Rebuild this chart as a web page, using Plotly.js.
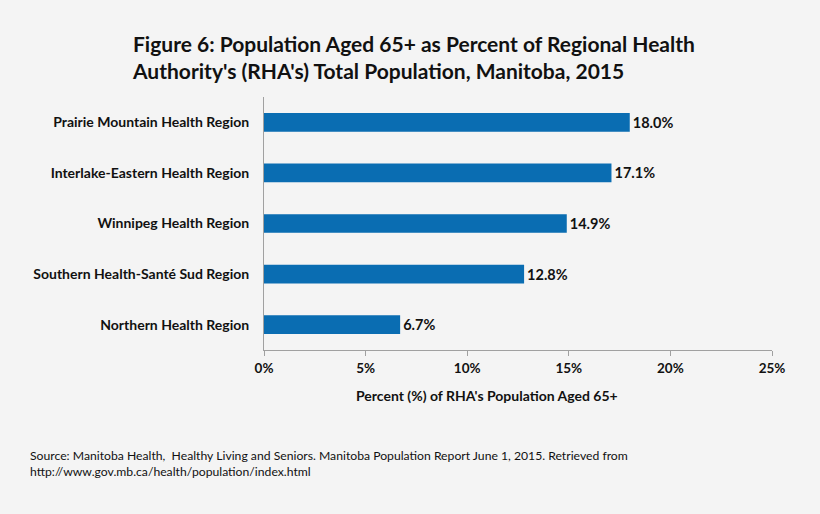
<!DOCTYPE html>
<html>
<head>
<meta charset="utf-8">
<script src="https://cdn.plot.ly/plotly-3.0.1.min.js"></script>
<style>html,body{margin:0;padding:0;background:#f4f4f4;}#chart{width:820px;height:514px;}</style>
</head>
<body>
<div id="chart"></div>
<script>
const regions = [
  "Northern Health Region",
  "Southern Health-Santé Sud Region",
  "Winnipeg Health Region",
  "Interlake-Eastern Health Region",
  "Prairie Mountain Health Region"
];
const percents = [6.7, 12.8, 14.9, 17.1, 18.0];
const tickValues = [0, 5, 10, 15, 20, 25];
const tickLabels = ["0%", "5%", "10%", "15%", "20%", "25%"];
const titleText = "Figure 6: Population Aged 65+ as Percent of Regional Health<br>Authority's (RHA's) Total Population, Manitoba, 2015";
const xTitle = "Percent (%) of RHA's Population Aged 65+";
const sourceText = "Source: Manitoba Health,  Healthy Living and Seniors. Manitoba Population Report June 1, 2015. Retrieved from<br>http://www.gov.mb.ca/health/population/index.html";

const FONT = "Lato, 'Open Sans', sans-serif";

Plotly.newPlot("chart", [{
  type: "bar",
  orientation: "h",
  x: percents,
  y: regions,
  marker: {color: "#0a6db2"},
  text: percents.map(v => v.toFixed(1) + "%"),
  textposition: "outside",
  textfont: {family: FONT, size: 14.5, color: "#111", weight: "bold"},
  cliponaxis: false,
  hoverinfo: "none"
}], {
  width: 820, height: 514,
  paper_bgcolor: "#f4f4f4",
  plot_bgcolor: "rgba(0,0,0,0)",
  margin: {l: 264, r: 48, t: 97, b: 164},
  bargap: 0.63,
  showlegend: false,
  font: {family: FONT, color: "#111"},
  title: {
    text: titleText,
    font: {family: FONT, size: 21, color: "#111", weight: "bold"},
    x: 133/820, xanchor: "left", xref: "container",
    y: 1 - 52/514, yanchor: "top", yref: "container"
  },
  xaxis: {
    range: [0, 25],
    tickvals: tickValues,
    ticktext: tickLabels,
    showgrid: false,
    zeroline: false,
    showline: true,
    linecolor: "#a0a0a0",
    linewidth: 1,
    ticks: "outside",
    ticklen: 5,
    tickcolor: "#a0a0a0",
    tickfont: {family: FONT, size: 13.5, color: "#111", weight: "bold"},
    ticklabelstandoff: 1,
    fixedrange: true
  },
  yaxis: {
    showgrid: false,
    zeroline: false,
    showline: true,
    linecolor: "#a0a0a0",
    linewidth: 1,
    ticks: "",
    ticklabelstandoff: 11,
    tickfont: {family: FONT, size: 14, color: "#111", weight: "bold"},
    fixedrange: true
  },
  annotations: [{
    text: xTitle,
    xref: "paper", yref: "paper",
    x: (487 - 264) / 508, y: -45/253,
    xanchor: "center", yanchor: "middle",
    showarrow: false,
    font: {family: FONT, size: 14, color: "#111", weight: "bold"}
  }, {
    text: sourceText,
    xref: "paper", yref: "paper",
    x: (28 - 264) / 508, y: -96/253,
    xanchor: "left", yanchor: "top",
    align: "left",
    showarrow: false,
    font: {family: FONT, size: 12.2, color: "#111"}
  }]
}, {displayModeBar: false, staticPlot: true});
</script>
</body>
</html>
